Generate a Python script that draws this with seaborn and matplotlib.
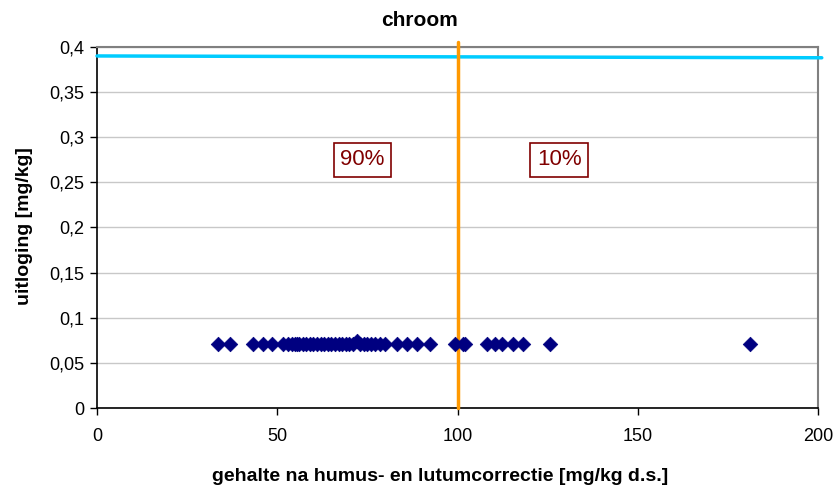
import matplotlib
matplotlib.use("Agg")
import matplotlib.pyplot as plt
import seaborn as sns
import pandas as pd
from matplotlib.ticker import FuncFormatter

# Chromium content after humus/lutum correction and corresponding leaching
gehalte = [33.6, 36.9, 43.3, 46.0, 48.5, 51.5, 53.0, 54.0, 55.0, 55.5, 56.0,
           57.0, 58.0, 59.0, 60.0, 61.0, 62.0, 63.0, 64.0, 65.0, 66.0, 67.0,
           68.0, 69.0, 70.0, 71.0, 72.0, 73.0, 74.0, 75.0, 76.0, 77.0, 78.5,
           79.9, 83.2, 86.0, 88.8, 92.4, 99.3, 101.5, 102.0, 108.2, 110.4,
           112.3, 115.4, 118.2, 125.7, 181.1]
uitloging = [0.071] * len(gehalte)
uitloging[26] = 0.074

# Threshold lines
grens_uitloging = [0.390, 0.388]
grens_uitloging_x = [0, 201]
grens_gehalte = 100
grens_gehalte_y = [0, 0.405]

# Share labels on either side of the threshold
labels = ["90%", "10%"]
label_x = [73.6, 128.2]
label_y = [0.275, 0.275]

x_ticks = [0, 50, 100, 150, 200]
y_ticks = [0, 0.05, 0.1, 0.15, 0.2, 0.25, 0.3, 0.35, 0.4]

sns.set_style("white", {"text.color": "black", "axes.labelcolor": "black",
                        "xtick.color": "black", "ytick.color": "black"})
plt.rcParams["font.family"] = ["Liberation Sans", "DejaVu Sans"]

fig = plt.figure(figsize=(8.4, 4.94), dpi=100)
ax = fig.add_axes([0.1155, 0.174, 0.8585, 0.731])

df = pd.DataFrame({"gehalte": gehalte, "uitloging": uitloging})

ax.set_xlim(0, 200)
ax.set_ylim(0, 0.4)
ax.set_yticks(y_ticks)
ax.set_xticks(x_ticks)
ax.yaxis.grid(True, color="#c8c8c8", linewidth=1)
ax.set_axisbelow(True)

ax.plot(grens_uitloging_x, grens_uitloging, color="#00ccff", linewidth=2.5,
        clip_on=False, zorder=3)
ax.plot([grens_gehalte, grens_gehalte], grens_gehalte_y, color="#ff9900",
        linewidth=2.5, clip_on=False, zorder=3)

sns.scatterplot(data=df, x="gehalte", y="uitloging", marker="D", s=55,
                color="#000080", edgecolor="#000080", linewidth=0.5,
                ax=ax, zorder=4, clip_on=False)

for t, xx, yy in zip(labels, label_x, label_y):
    ax.text(xx, yy, t, ha="center", va="center", fontsize=16,
            color="#800000",
            bbox=dict(boxstyle="square,pad=0.3", facecolor="white",
                      edgecolor="#800000", linewidth=1.2))

fmt = FuncFormatter(lambda v, p: ("%g" % round(v, 2)).replace(".", ","))
ax.yaxis.set_major_formatter(fmt)
ax.xaxis.set_major_formatter(fmt)
ax.tick_params(axis="both", labelsize=13, length=5, width=1,
               direction="out", color="black", labelcolor="black",
               bottom=True, left=True)
ax.tick_params(axis="x", pad=9.5)
ax.tick_params(axis="y", pad=4)

for side in ["left", "bottom"]:
    ax.spines[side].set_color("black")
    ax.spines[side].set_linewidth(1.2)
for side in ["top", "right"]:
    ax.spines[side].set_color("#808080")
    ax.spines[side].set_linewidth(1.5)

ax.set_xlabel("")
ax.set_ylabel("")
fig.text(0.5, 1 - 20 / 494, "chroom", ha="center", va="center",
         fontsize=15, fontweight="bold", color="black")
fig.text(440 / 840, 1 - 476 / 494,
         "gehalte na humus- en lutumcorrectie [mg/kg d.s.]",
         ha="center", va="center", fontsize=14, fontweight="bold",
         color="black")
fig.text(25 / 840, 1 - 226 / 494, "uitloging [mg/kg]", ha="center",
         va="center", rotation=90, fontsize=14, fontweight="bold",
         color="black")

fig.savefig("out.png", dpi=100)
